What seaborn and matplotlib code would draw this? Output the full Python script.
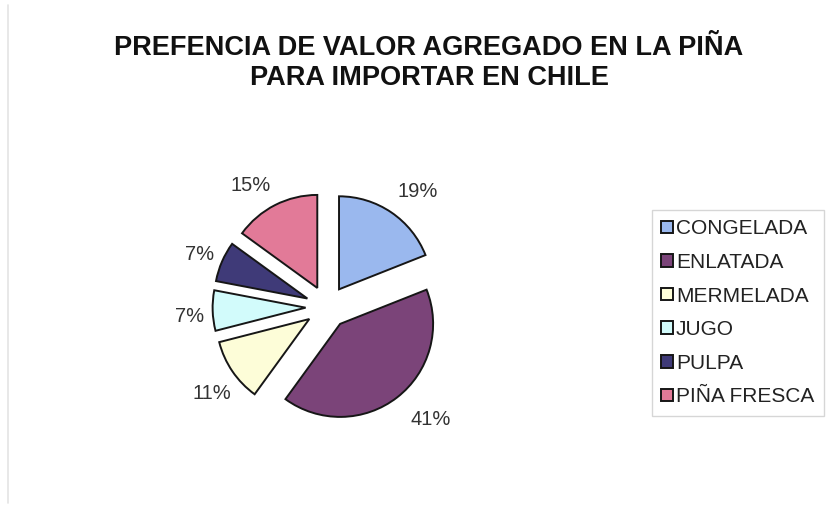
import matplotlib
matplotlib.use("Agg")
import numpy as np
import matplotlib.pyplot as plt
import seaborn as sns
from matplotlib.lines import Line2D

sns.set_theme(style="white")
plt.rcParams["font.family"] = ["Liberation Sans", "DejaVu Sans"]

categories = ["CONGELADA", "ENLATADA", "MERMELADA", "JUGO", "PULPA", "PIÑA FRESCA"]
shares = [19, 41, 11, 7, 7, 15]
colors = ["#9ab8ee", "#7b4479", "#fdfdd8", "#d2fbfb", "#3f3a78", "#e27a98"]
title = "PREFENCIA DE VALOR AGREGADO EN LA PIÑA\nPARA IMPORTAR EN CHILE"

# placement of each percentage label relative to its slice's apex:
# distance (in radii) and angular nudge (degrees) from the slice bisector
label_dist = [1.35, 1.41, 1.32, 1.25, 1.25, 1.31]
label_turn = [-4.8, 5.6, 3.4, 2.8, 1.3, 6.0]

fig = plt.figure(figsize=(8.3, 5.08), dpi=100)
fig.patch.set_facecolor("white")

# faint frame line on the left edge
fig.add_artist(Line2D([8 / 830, 8 / 830], [0.01, 0.99], color="#e4e4e4", lw=1.2))

scale = 93.0  # pixels per unit radius
lim = 1.5
w = 2 * lim * scale
cx, cy = 327, 508 - 307
ax = fig.add_axes([(cx - w / 2) / 830, (cy - w / 2) / 508, w / 830, w / 508])

wedges, texts, autotexts = ax.pie(
    shares,
    colors=colors,
    startangle=90,
    counterclock=False,
    explode=[0.23] * len(shares),
    autopct=lambda p: f"{p:.0f}%",
    pctdistance=1.3,
    wedgeprops=dict(edgecolor="#161616", linewidth=1.4),
    textprops=dict(fontsize=14.5, color="#333333"),
)
for wdg, txt, d, turn in zip(wedges, autotexts, label_dist, label_turn):
    mid = np.deg2rad((wdg.theta1 + wdg.theta2) / 2 + turn)
    x0, y0 = wdg.center
    txt.set_position((x0 + d * np.cos(mid), y0 + d * np.sin(mid)))

ax.set_xlim(-lim, lim)
ax.set_ylim(-lim, lim)
ax.set_aspect("equal")
ax.axis("off")

fig.text(0.517, 0.876, title, ha="center", va="center", fontsize=19.5,
         fontweight="bold", color="#111111", linespacing=1.2)

leg = fig.legend(
    wedges, categories,
    loc="upper left",
    bbox_to_anchor=(652 / 830, 1 - 210 / 508),
    frameon=True,
    fancybox=False,
    fontsize=15,
    handlelength=0.55,
    handleheight=0.55,
    handletextpad=0.15,
    labelspacing=0.7,
    borderpad=0.45,
    borderaxespad=0,
)
leg.get_frame().set_edgecolor("#cccccc")
leg.get_frame().set_linewidth(1.0)
for t in leg.get_texts():
    t.set_color("#222222")

fig.savefig("out.png", dpi=100, facecolor="white")
